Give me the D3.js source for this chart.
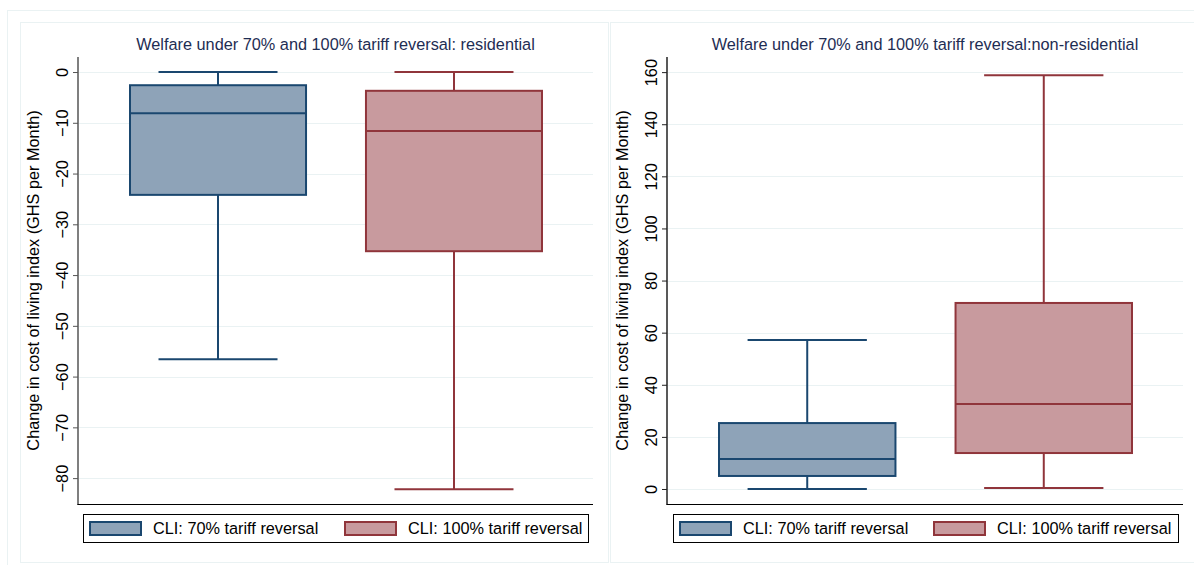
<!DOCTYPE html>
<html>
<head>
<meta charset="utf-8">
<script src="https://cdn.jsdelivr.net/npm/d3@7"></script>
<style>
  html, body { margin: 0; padding: 0; background: #ffffff; }
  svg { display: block; font-family: "Liberation Sans", Arial, Helvetica, sans-serif; }
</style>
</head>
<body>
<svg id="chart" width="1194" height="565"></svg>
<script>
// Series names and legend labels
const seriesKeys = ["cli70", "cli100"];
const seriesLabels = ["CLI: 70% tariff reversal", "CLI: 100% tariff reversal"];

// Box summaries per series: [lower whisker, Q1, median, Q3, upper whisker]
const residentialCli70 = [-56.6, -24.2, -8.1, -2.6, 0];
const residentialCli100 = [-82.2, -35.3, -11.6, -3.7, 0];
const nonResidentialCli70 = [0, 5.0, 11.5, 25.3, 57.2];
const nonResidentialCli100 = [0.4, 13.8, 32.6, 71.4, 158.8];

// Axis tick values
const residentialTicks = [0, -10, -20, -30, -40, -50, -60, -70, -80];
const nonResidentialTicks = [0, 20, 40, 60, 80, 100, 120, 140, 160];

const titles = [
  "Welfare under 70% and 100% tariff reversal: residential",
  "Welfare under 70% and 100% tariff reversal:non-residential"
];
const yTitle = "Change in cost of living index (GHS per Month)";

const fills = { cli70: "#8ea3b8", cli100: "#c89a9e" };
const strokes = { cli70: "#1a476f", cli100: "#90353b" };
const FONT = 16.3;

const svg = d3.select("#chart");

// outer graph frame
svg.append("rect").attr("x", 7.5).attr("y", 10.5).attr("width", 1200).attr("height", 600)
  .attr("fill", "none").attr("stroke", "#eaf2f3");

const panels = [
  {
    frame: [20, 22, 588, 540],
    plot: { left: 78, right: 593, top: 57, bottom: 504 },
    domain: [-85.1, 2.96],
    ticks: residentialTicks,
    data: [residentialCli70, residentialCli100],
    title: titles[0],
    axisColor: "#555",
    legend: { x: 83, y: 514, w: 505, h: 28, swatch: [90, 345] }
  },
  {
    frame: [610, 22, 584, 540],
    plot: { left: 667, right: 1183, top: 57, bottom: 504 },
    domain: [-5.76, 165.8],
    ticks: nonResidentialTicks,
    data: [nonResidentialCli70, nonResidentialCli100],
    title: titles[1],
    axisColor: "#222",
    legend: { x: 673, y: 514, w: 505, h: 28, swatch: [680, 934] }
  }
];

panels.forEach(p => {
  const g = svg.append("g");
  const [fx, fy, fw, fh] = p.frame;
  g.append("rect").attr("x", fx + 0.5).attr("y", fy + 0.5).attr("width", fw).attr("height", fh)
    .attr("fill", "#ffffff").attr("stroke", "#eaf2f3");

  const y = d3.scaleLinear().domain(p.domain).range([p.plot.bottom, p.plot.top]);
  const x = d3.scaleBand().domain(seriesKeys)
    .range([p.plot.left + 52, p.plot.right - 51]).paddingInner(0.254).paddingOuter(0);

  // gridlines
  g.append("g").selectAll("line").data(p.ticks).join("line")
    .attr("x1", p.plot.left + 1).attr("x2", p.plot.right)
    .attr("y1", d => Math.round(y(d)) + 0.5).attr("y2", d => Math.round(y(d)) + 0.5)
    .attr("stroke", "#eaf2f3").attr("stroke-width", 1);

  // boxes
  p.data.forEach((v, i) => {
    const key = seriesKeys[i];
    const bx = x(key), bw = x.bandwidth(), cx = bx + bw / 2;
    const capHalf = bw * 0.338;
    const bg = g.append("g").attr("stroke", strokes[key]).attr("stroke-width", 2).attr("fill", "none");
    // whiskers
    bg.append("line").attr("x1", cx).attr("x2", cx).attr("y1", y(v[3])).attr("y2", y(v[4]));
    bg.append("line").attr("x1", cx).attr("x2", cx).attr("y1", y(v[1])).attr("y2", y(v[0]));
    bg.append("line").attr("x1", cx - capHalf).attr("x2", cx + capHalf).attr("y1", y(v[4])).attr("y2", y(v[4]));
    bg.append("line").attr("x1", cx - capHalf).attr("x2", cx + capHalf).attr("y1", y(v[0])).attr("y2", y(v[0]));
    // box
    bg.append("rect").attr("x", bx).attr("y", y(v[3])).attr("width", bw)
      .attr("height", y(v[1]) - y(v[3])).attr("fill", fills[key]);
    // median
    bg.append("line").attr("x1", bx).attr("x2", bx + bw).attr("y1", y(v[2])).attr("y2", y(v[2]));
  });

  // y axis
  const axis = d3.axisLeft(y).tickValues(p.ticks).tickSize(5).tickPadding(4).tickFormat(d3.format("d"));
  const ag = g.append("g").attr("transform", `translate(${p.plot.left},0)`).call(axis);
  ag.select(".domain").attr("stroke", p.axisColor).attr("stroke-width", 1.5)
    .attr("d", `M0,${p.plot.top}V${p.plot.bottom}`);
  ag.selectAll(".tick line").attr("stroke", p.axisColor);
  ag.selectAll(".tick text")
    .attr("font-size", FONT).attr("fill", "#000")
    .attr("transform", "rotate(-90)")
    .attr("x", 0).attr("dy", 0)
    .attr("y", -10)
    .attr("text-anchor", "middle");

  // x axis baseline
  g.append("line").attr("x1", p.plot.left - 0.75).attr("x2", p.plot.right)
    .attr("y1", p.plot.bottom + 0.5).attr("y2", p.plot.bottom + 0.5)
    .attr("stroke", "#000").attr("stroke-width", 1.2);

  // titles
  g.append("text").attr("x", (p.plot.left + p.plot.right) / 2).attr("y", 50)
    .attr("text-anchor", "middle").attr("font-size", FONT).attr("fill", "#1e2d53").text(p.title);
  g.append("text")
    .attr("transform", `translate(${p.plot.left - 39},${(p.plot.top + p.plot.bottom) / 2}) rotate(-90)`)
    .attr("text-anchor", "middle").attr("font-size", FONT).attr("fill", "#000").text(yTitle);

  // legend
  const L = p.legend;
  g.append("rect").attr("x", L.x + 0.5).attr("y", L.y + 0.5).attr("width", L.w).attr("height", L.h)
    .attr("fill", "#fff").attr("stroke", "#000").attr("stroke-width", 1);
  seriesKeys.forEach((key, i) => {
    const sx = L.swatch[i];
    g.append("rect").attr("x", sx).attr("y", L.y + 8).attr("width", 51).attr("height", 13)
      .attr("fill", fills[key]).attr("stroke", strokes[key]).attr("stroke-width", 2);
    g.append("text").attr("x", sx + 63).attr("y", L.y + 20)
      .attr("font-size", FONT).attr("fill", "#000").text(seriesLabels[i]);
  });
});
</script>
</body>
</html>
